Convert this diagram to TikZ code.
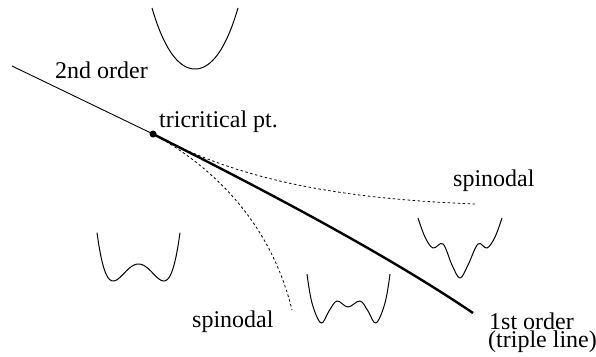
\documentclass[tikz,border=0pt]{standalone}
\usepackage{fontspec}
\setmainfont{Liberation Serif}
\begin{document}
\begin{tikzpicture}[x=1pt,y=-1pt,
  lbl/.style={anchor=base west,inner sep=0pt,font=\fontsize{24}{17.5}\selectfont},
  thinline/.style={line width=0.9pt},
  thickline/.style={line width=2.4pt},
  spin/.style={line width=0.8pt,dash pattern=on 2.5pt off 2.5pt},
  pot/.style={line width=1pt,line join=round}]
\useasboundingbox (0,0) rectangle (596,356);
% points
\node[circle,fill,inner sep=0pt,minimum size=7pt] (tc) at (153,134) {};
\coordinate (start2) at (12,66);
\coordinate (end1) at (473,313);
\coordinate (spinA) at (475,204);
\coordinate (spinB) at (292,310);
% lines
\draw[thinline] (start2) -- (tc.center);
\draw[thickline] (tc.center) .. controls (250,183) and (380,250) .. (end1);
\draw[spin] (tc.center) .. controls (230,175) and (320,198) .. (spinA);
\draw[spin] (tc.center) .. controls (210,165) and (270,220) .. (spinB);
% potentials
\draw[pot] plot[domain=-1:1,samples=80] ({195+43*\x},{69-61*(0.8*\x*\x+0.2*\x*\x*\x*\x)});
\draw[pot] plot[domain=-1:1,samples=80] ({138.5+41.5*\x},{264-122.7*(\x*\x*\x*\x-0.7442*\x*\x)});
\draw[pot] plot[smooth,tension=0.6] coordinates {(307,274) (312,303) (321,323) (329,311) (337,301) (348,307) (360,301) (368,311) (376,323) (385,303) (390,274)};
\draw[pot] plot[smooth,tension=0.6] coordinates {(418,218) (425,237) (433,248) (443,244) (452,265) (460,278) (468,265) (478,244) (487,248) (495,237) (502,218)};
% labels
\node[lbl] (l2nd) at (55,78) {2nd order};
\node[lbl] (ltc) at (159,127) {tricritical pt.};
\node[lbl] (lspA) at (453,186) {spinodal};
\node[lbl] (lspB) at (192,327) {spinodal};
\node[lbl,align=left] (l1st) at (488,347) {\hspace*{1pt}1st order\\(triple line)};
\end{tikzpicture}
\end{document}
